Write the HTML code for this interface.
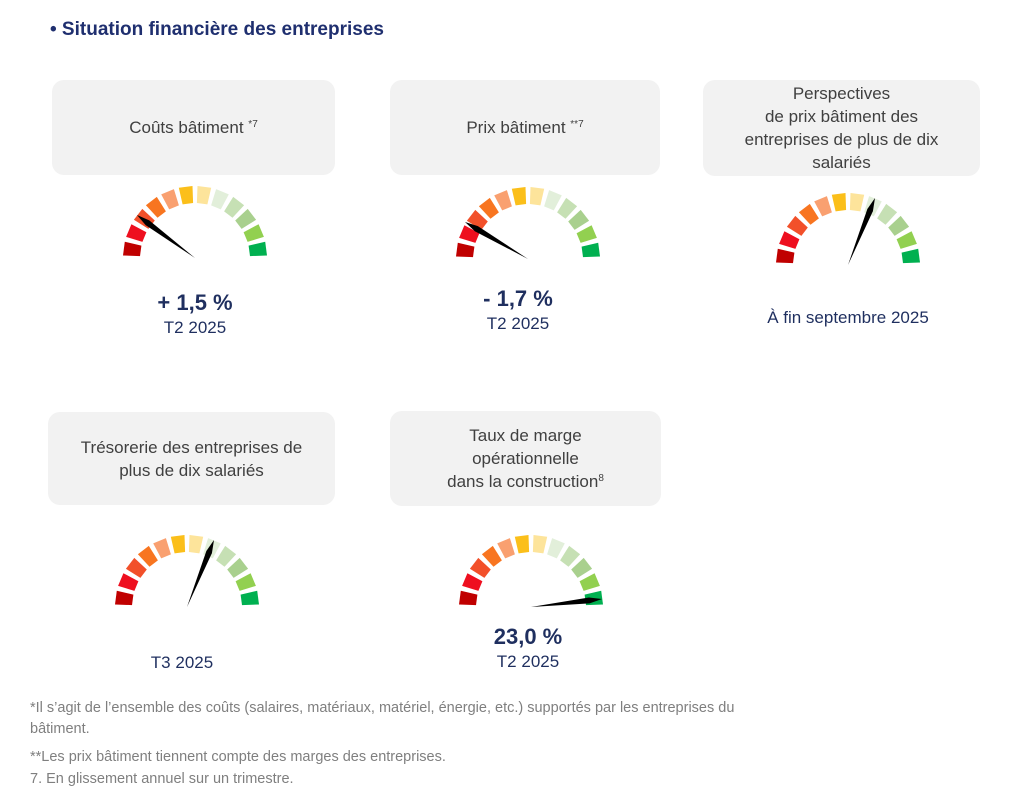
<!DOCTYPE html>
<html><head><meta charset="utf-8"><style>
body{margin:0;width:1024px;height:809px;background:#fff;font-family:"Liberation Sans",sans-serif;position:relative;overflow:hidden}
.a{position:absolute}
.box{position:absolute;background:#f2f2f2;border-radius:12px;color:#404040;font-size:17px;display:flex;align-items:center;justify-content:center;text-align:center;line-height:23px}
.box sup{font-size:10px;line-height:0;vertical-align:6px}
.v{position:absolute;color:#1f2f5f;font-weight:bold;font-size:22px;text-align:center;width:200px}
.t{position:absolute;color:#1f2f5f;font-size:17px;text-align:center;width:240px}
.f{position:absolute;left:30px;color:#7f7f7f;font-size:14.5px}
</style></head><body>
<div class="a" style="left:50px;top:19px;color:#1f2f6f;font-weight:bold;font-size:19px">• Situation financière des entreprises</div>
<div class="box" style="left:52px;top:80px;width:283px;height:95px"><div>Coûts bâtiment <sup>*7</sup></div></div>
<div class="box" style="left:390px;top:80px;width:270px;height:95px"><div>Prix bâtiment <sup>**7</sup></div></div>
<div class="box" style="left:703px;top:80px;width:277px;height:96px"><div>Perspectives<br>de prix bâtiment des<br>entreprises de plus de dix<br>salariés</div></div>
<div class="box" style="left:48px;top:412px;width:287px;height:93px"><div>Trésorerie des entreprises de<br>plus de dix salariés</div></div>
<div class="box" style="left:390px;top:411px;width:271px;height:95px"><div>Taux de marge<br>opérationnelle<br>dans la construction<sup>8</sup></div></div>
<svg id="g" class="a" style="left:0;top:0" width="1024" height="809"></svg>
<div class="v" style="left:95px;top:290px">+ 1,5 %</div>
<div class="t" style="left:75px;top:318px">T2 2025</div>
<div class="v" style="left:418px;top:286px">- 1,7 %</div>
<div class="t" style="left:398px;top:314px">T2 2025</div>
<div class="t" style="left:728px;top:308px">À fin septembre 2025</div>
<div class="t" style="left:62px;top:653px">T3 2025</div>
<div class="v" style="left:428px;top:624px">23,0 %</div>
<div class="t" style="left:408px;top:652px">T2 2025</div>
<div class="f" style="top:698px;line-height:21px">*Il s’agit de l’ensemble des coûts (salaires, matériaux, matériel, énergie, etc.) supportés par les entreprises du<br>bâtiment.</div>
<div class="f" style="top:749px">**Les prix bâtiment tiennent compte des marges des entreprises.</div>
<div class="f" style="top:771px">7. En glissement annuel sur un trimestre.</div>
<script>
var cols=["#c00000","#ee0f1f","#f2502a","#f87520","#f9a070","#fbbf1a","#fde49b","#e2efda","#c6e0b4","#a9d08e","#92d050","#00b050"];
var g=[[195,258,137,215],[528,259,465,222],[848,265,875,198],[187,607,214,540],[531,607,602,599]];
var s="";
g.forEach(function(q){var cx=q[0],cy=q[1],R=72,r=55;
for(var i=0;i<12;i++){var a1=Math.PI-(i*15+2)*Math.PI/180,a2=Math.PI-((i+1)*15-2)*Math.PI/180;
function p(rr,a){return (cx+rr*Math.cos(a)).toFixed(1)+","+(cy-rr*Math.sin(a)).toFixed(1)}
s+='<polygon fill="'+cols[i]+'" points="'+p(R,a1)+' '+p(R,a2)+' '+p(r,a2)+' '+p(r,a1)+'"/>';}
var dx=q[2]-cx,dy=q[3]-cy,L=Math.hypot(dx,dy),nx=-dy/L*3,ny=dx/L*3;
var bx=cx+dx*0.82,by=cy+dy*0.82;
s+='<polygon fill="#000" points="'+cx+','+cy+' '+(bx+nx)+','+(by+ny)+' '+q[2]+','+q[3]+' '+(bx-nx)+','+(by-ny)+'"/>';});
document.getElementById("g").innerHTML=s;
</script>
</body></html>
